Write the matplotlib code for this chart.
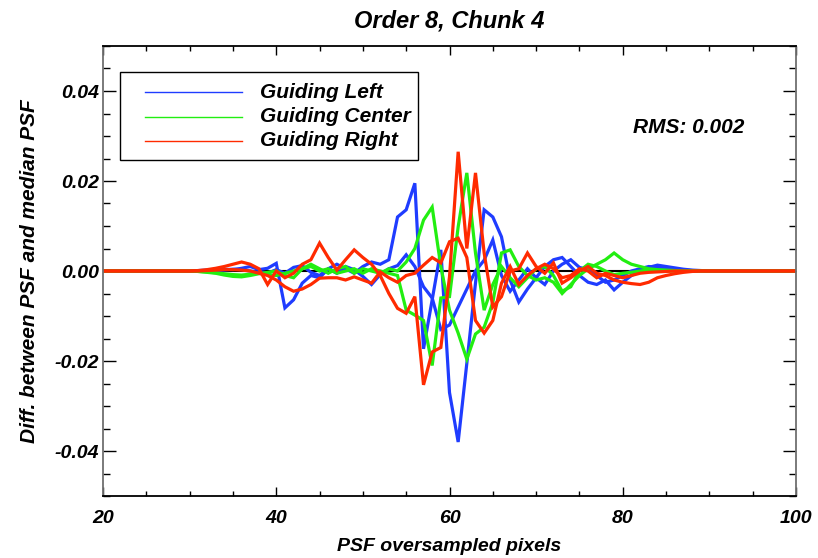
import matplotlib
matplotlib.use("Agg")
import matplotlib.pyplot as plt
from matplotlib.patches import Rectangle
from matplotlib.ticker import MultipleLocator, FormatStrFormatter
import numpy as np

plt.rcParams['font.family'] = ['Liberation Sans', 'DejaVu Sans']
plt.rcParams['font.weight'] = 'bold'
plt.rcParams['font.style'] = 'italic'

# oversampled pixel grid
pixels = list(range(20, 101))

# PSF minus median PSF, in units of 1e-3
left_a = [0, 0, 0, 0, 0, 0, 0, 0, 0, 0,
          0.0, 0.1, 0.2, 0.3, 0.4, 0.3, 0.6, 1.0, 0.3, 0.6,
          1.7, -8.2, -6.4, -2.7, -1.0, -1.5, 0.5, 1.5, 0.5, -0.5,
          1.0, 2.0, 1.5, 2.5, 12.0, 13.6, 19.5, -17.3, -6.4, 4.7,
          -27.0, -38.0, -20.5, -2.7, 13.6, 12.0, 7.6, -2.0, -6.9, -4.0,
          -1.5, 1.0, 2.5, 3.0, 1.0, -1.0, -2.5, -3.0, -2.0, -4.2,
          -2.5, -1.0, 0.0, 0.8, 1.3, 1.0, 0.7, 0.4, 0.2, 0.1,
          0, 0, 0, 0, 0, 0, 0, 0, 0, 0, 0]
left_b = [0, 0, 0, 0, 0, 0, 0, 0, 0, 0,
          0.0, 0.0, 0.1, 0.1, 0.2, 0.4, 0.3, 0.0, -0.3, -0.5,
          0.3, -0.5, 0.8, 1.2, -0.3, -1.0, 0.5, -0.5, 1.0, 0.3,
          -1.2, -3.0, -0.8, 0.5, 1.2, 3.6, 1.0, -3.5, -6.0, -13.0,
          -12.0, -8.0, -4.0, 0.0, 2.4, 6.9, -1.0, -4.5, -2.0, 0.5,
          -1.5, -3.0, 0.0, 1.5, 2.5, 0.8, 0.3, -1.0, -2.5, -2.0,
          -1.0, 0.0, 0.5, 1.0, 0.8, 0.5, 0.3, 0.2, 0.1, 0.0,
          0, 0, 0, 0, 0, 0, 0, 0, 0, 0, 0]
center_a = [0, 0, 0, 0, 0, 0, 0, 0, 0, 0,
            0.0, -0.1, -0.2, -0.4, -0.6, -0.8, -0.9, -0.7, -0.5, -0.8,
            -1.0, -0.5, 0.0, 0.5, 1.5, 0.5, -0.5, 0.5, 1.0, -0.5,
            0.5, 0.0, -0.5, 0.5, 0.0, 2.0, 5.0, 11.3, 14.2, 1.0,
            -8.7, -13.8, -19.6, -14.0, -12.5, -7.0, 4.0, 4.7, 1.0, -1.0,
            -2.0, -1.5, -2.5, -5.0, -3.0, -1.0, 0.5, 1.5, 2.5, 4.0,
            2.5, 1.5, 1.0, 0.5, 0.3, 0.2, 0.1, 0.0, 0.0, 0.0,
            0, 0, 0, 0, 0, 0, 0, 0, 0, 0, 0]
center_b = [0, 0, 0, 0, 0, 0, 0, 0, 0, 0,
            0.0, -0.1, -0.3, -0.5, -0.9, -1.2, -1.3, -1.0, -0.6, -0.3,
            0.0, -1.0, -1.5, 0.5, 1.0, 0.0, 0.5, -0.5, 0.0, 0.5,
            -0.5, 0.5, 0.0, -0.5, -1.0, -8.7, -9.8, -11.0, -21.0, -6.0,
            -5.7, 9.8, 21.8, 4.0, -8.7, -3.0, 1.0, -1.5, -3.5, -1.5,
            0.5, 1.0, -1.0, -4.5, -3.5, 0.0, 1.5, 1.0, 0.0, -0.8,
            -0.5, -0.3, 0.0, 0.2, 0.1, 0.0, 0.0, 0.0, 0.0, 0.0,
            0, 0, 0, 0, 0, 0, 0, 0, 0, 0, 0]
right_a = [0, 0, 0, 0, 0, 0, 0, 0, 0, 0,
           0.0, 0.1, 0.3, 0.6, 1.0, 1.5, 2.0, 1.5, 0.5, -3.0,
           0.0, -1.5, -0.5, 1.5, 2.5, 6.2, 3.0, 0.2, 2.5, 4.7,
           3.0, 1.5, -1.0, -5.0, -8.3, -9.4, -5.7, -25.3, -18.0, -17.0,
           -1.3, 26.5, 5.0, 21.8, 4.0, -8.0, -5.7, 0.0, 0.5, 4.0,
           1.0, -0.5, 1.8, -2.7, -1.5, 0.0, 1.0, -0.5, -1.0, -2.0,
           -2.5, -2.8, -3.0, -2.5, -1.5, -1.0, -0.6, -0.3, -0.1, 0.0,
           0, 0, 0, 0, 0, 0, 0, 0, 0, 0, 0]
right_b = [0, 0, 0, 0, 0, 0, 0, 0, 0, 0,
           0.0, 0.0, 0.1, 0.2, 0.3, 0.3, 0.2, 0.0, -0.5, -1.0,
           -2.0, -3.5, -4.5, -4.0, -3.0, -1.6, -1.5, -1.5, -2.0, -1.3,
           -2.0, -2.7, -0.2, -1.5, -2.5, -1.0, -0.5, 1.3, 3.0, 1.8,
           6.5, 7.3, 3.0, -11.0, -13.8, -11.0, -2.7, 1.0, -3.0, -1.0,
           0.5, 1.5, 0.5, -1.5, -1.0, 0.5, 0.0, -1.5, -0.5, -1.0,
           -1.5, -1.0, -0.5, -0.3, -0.2, -0.1, 0.0, 0.0, 0.0, 0.0,
           0, 0, 0, 0, 0, 0, 0, 0, 0, 0, 0]

labels = ['Guiding Left', 'Guiding Center', 'Guiding Right']
colors = ['#1f3cff', '#22ee11', '#ff2a00']
series = [[left_a, left_b], [center_a, center_b], [right_a, right_b]]
rms_text = 'RMS: 0.002'

W, H = 818, 558
fig = plt.figure(figsize=(W / 100, H / 100), dpi=100)
ax_l, ax_r, ax_t, ax_b = 103, 796, 46, 496
ax = fig.add_axes([ax_l / W, 1 - ax_b / H, (ax_r - ax_l) / W, (ax_b - ax_t) / H])

x = np.array(pixels)
ax.plot([20, 100], [0, 0], color='black', lw=1.5, zorder=1)
for col, group in zip(colors, series):
    for vals in group:
        ax.plot(x, np.array(vals) * 1e-3, color=col, lw=2.3, zorder=2,
                solid_joinstyle='miter')

ax.set_xlim(20, 100)
ax.set_ylim(-0.05, 0.05)
ax.xaxis.set_major_locator(MultipleLocator(20))
ax.xaxis.set_minor_locator(MultipleLocator(5))
ax.yaxis.set_major_locator(MultipleLocator(0.02))
ax.yaxis.set_minor_locator(MultipleLocator(0.005))
ax.yaxis.set_major_formatter(FormatStrFormatter('%.2f'))

ax.tick_params(axis='x', which='major', direction='in', length=6.5, width=1,
               top=True, labelsize=14, pad=10)
ax.tick_params(axis='x', which='minor', direction='in', length=3.6, width=1, top=True)
ax.tick_params(axis='y', which='major', direction='in', length=9.5, width=1,
               right=True, labelsize=14, pad=3)
ax.tick_params(axis='y', which='minor', direction='in', length=5, width=1, right=True)
for lab in ax.get_xticklabels() + ax.get_yticklabels():
    lab.set_fontweight('bold')
    lab.set_fontstyle('italic')

for side in ['left', 'right']:
    ax.spines[side].set_color('#707070')
    ax.spines[side].set_linewidth(1.3)
for side in ['top', 'bottom']:
    ax.spines[side].set_color('black')
    ax.spines[side].set_linewidth(1.3)

ax.set_title('Order 8, Chunk 4', fontsize=17, fontweight='bold', fontstyle='italic', pad=13)
ax.set_xlabel('PSF oversampled pixels', fontsize=14, fontweight='bold',
              fontstyle='italic', labelpad=8)
ax.set_ylabel('Diff. between PSF and median PSF', fontsize=15, fontweight='bold',
              fontstyle='italic', labelpad=11)

ax.text(0.926, 0.818, rms_text, transform=ax.transAxes, ha='right', va='center',
        fontsize=15, fontweight='bold', fontstyle='italic')


# key box drawn in pixel positions relative to the axes
def fx(px):
    return (px - ax_l) / (ax_r - ax_l)


def fy(py):
    return (ax_b - py) / (ax_b - ax_t)


box = Rectangle((fx(120), fy(160)), fx(418) - fx(120), fy(72) - fy(160),
                transform=ax.transAxes, facecolor='white', edgecolor='black',
                lw=1.0, zorder=5)
ax.add_patch(box)
for i, (lab, col) in enumerate(zip(labels, colors)):
    yy = fy(92 + 24.5 * i)
    ax.plot([fx(145), fx(242)], [yy, yy], transform=ax.transAxes, color=col,
            lw=1.0, zorder=6)
    ax.text(fx(260), yy, lab, transform=ax.transAxes, ha='left', va='center',
            fontsize=15, fontweight='bold', fontstyle='italic', zorder=6)

fig.savefig('out.png', dpi=100)
